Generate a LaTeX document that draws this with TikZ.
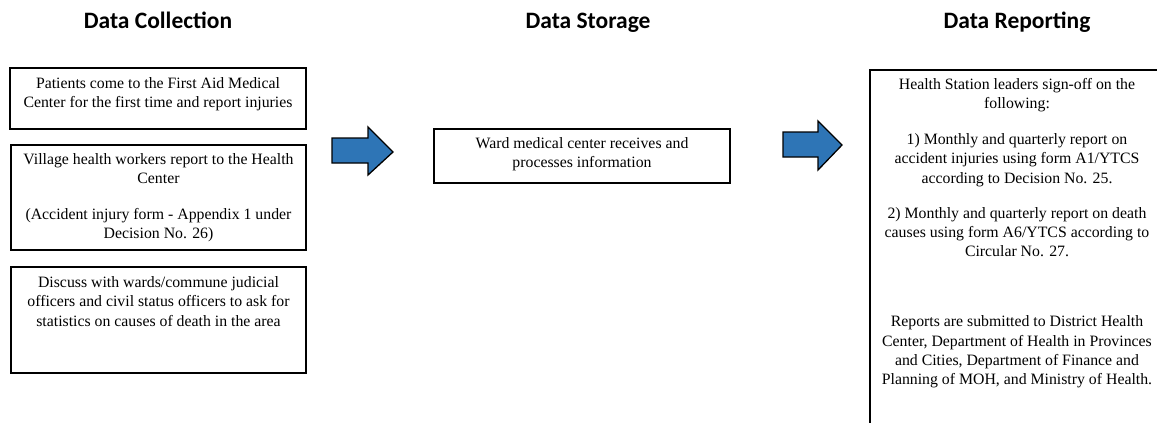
\documentclass[tikz,border=0pt]{standalone}
\usepackage{fontspec}
\setmainfont{Liberation Serif}
\newfontfamily\bodyfont{Liberation Serif}
\newfontfamily\headfont{Carlito}
\definecolor{arrowblue}{RGB}{46,117,182}
\tikzset{
  head/.style={font=\headfont\bfseries\fontsize{23.5}{28}\selectfont, inner sep=0, anchor=base},
  stepbox/.style={draw=black, line width=2.2pt, rectangle, inner sep=0},
  body/.style={font=\bodyfont\fontsize{15.8}{19.3}\selectfont, align=center, inner sep=0, anchor=north},
  blockarrow/.style={draw=black, line width=1.3pt, fill=arrowblue, line join=miter},
}
\begin{document}
\begin{tikzpicture}[x=1pt, y=-1pt]
\useasboundingbox (0,0) rectangle (1157,423);
\clip (0,0) rectangle (1157,423);
\fill[white] (0,0) rectangle (1157,423);

% column headings
\node[head] (hcol) at (158,28.5) {Data Collection};
\node[head] (hsto) at (588,28.5) {Data Storage};
\node[head] (hrep) at (1017,28.5) {Data Reporting};

% data collection boxes
\node[stepbox, minimum width=296pt, minimum height=61pt] (c1) at (158,98.5) {};
\node[body] (t1) at (158,77.5) {Patients come to the First Aid Medical\\Center for the first time and report injuries};

\node[stepbox, minimum width=295pt, minimum height=105pt] (c2) at (158.5,197.5) {};
\node[body] (t2) at (158.5,153.5) {Village health workers report to the Health\\Center\\[16pt](Accident injury form - Appendix 1 under\\Decision No. 26)};

\node[stepbox, minimum width=295pt, minimum height=106pt] (c3) at (158.5,320) {};
\node[body] (t3) at (158.5,276.5) {Discuss with wards/commune judicial\\officers and civil status officers to ask for\\statistics on causes of death in the area};

% data storage box
\node[stepbox, minimum width=296pt, minimum height=54pt] (s1) at (582,156) {};
\node[body] (t4) at (582,137.5) {Ward medical center receives and\\processes information};

% data reporting box, running past the page edge
\node[stepbox, minimum width=300pt, minimum height=380pt] (r1) at (1020,260) {};
\node[body] (t5) at (1017,78) {Health Station leaders sign-off on the\\following:\\[16.7pt]1) Monthly and quarterly report on\\accident injuries using form A1/YTCS\\according to Decision No. 25.\\[15.5pt]2) Monthly and quarterly report on death\\causes using form A6/YTCS according to\\Circular No. 27.\\[51pt]Reports are submitted to District Health\\Center, Department of Health in Provinces\\and Cities, Department of Finance and\\Planning of MOH, and Ministry of Health.};

% block arrows between the stages
\draw[blockarrow] (332,138) -- (368,138) -- (368,127) -- (393,152) -- (368,175) -- (368,163) -- (332,163) -- cycle;
\draw[blockarrow] (783,132) -- (818,132) -- (818,121) -- (842,145) -- (818,170) -- (818,157) -- (783,157) -- cycle;
\end{tikzpicture}
\end{document}
